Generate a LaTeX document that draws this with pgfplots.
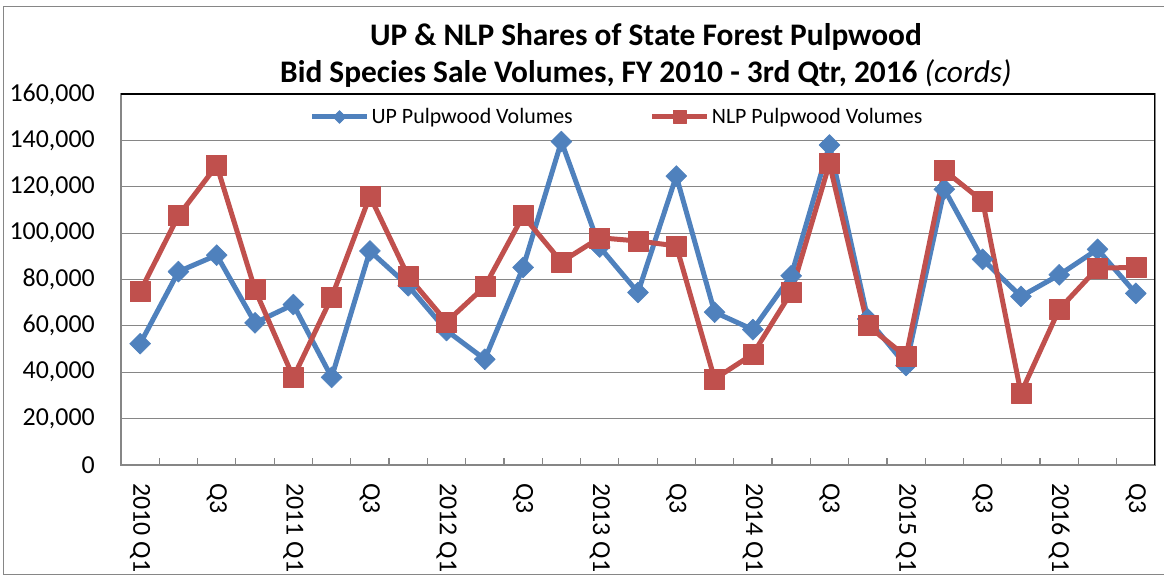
\documentclass[border=0pt]{standalone}
\usepackage{pgfplots}
\usepackage{pgfplotstable}
\pgfplotsset{compat=1.18}
\usepackage{fontspec}
\setmainfont{Carlito}
\definecolor{upblue}{HTML}{4F81BD}
\definecolor{nlpred}{HTML}{C0504D}
\definecolor{gridgray}{HTML}{868686}

\pgfplotstableread{
x up nlp
0 52300 74800
1 83400 107500
2 90500 129200
3 61300 75600
4 69200 37800
5 37800 72300
6 92300 116000
7 77300 81300
8 58000 61700
9 45600 77000
10 85200 107500
11 139500 87600
12 94000 98000
13 74400 96600
14 124600 94500
15 65900 37100
16 58400 47800
17 81600 74400
18 138000 130000
19 63000 60100
20 42900 46800
21 118900 127000
22 88700 113800
23 72700 31000
24 82000 67200
25 93000 84900
26 74000 85200
}\datatable

\begin{document}
\begin{tikzpicture}
\useasboundingbox (0bp,0bp) rectangle (1164bp,577bp);
\draw[gridgray, line width=1bp] (3bp,2bp) rectangle (1200bp,570bp);
\begin{axis}[
  at={(121bp,112bp)}, anchor=south west,
  scale only axis, width=1034bp, height=371bp,
  xmin=-0.5, xmax=26.5, ymin=0, ymax=160000,
  xtick={0,2,...,26},
  xticklabels={2010 Q1,Q3,2011 Q1,Q3,2012 Q1,Q3,2013 Q1,Q3,2014 Q1,Q3,2015 Q1,Q3,2016 Q1,Q3},
  minor xtick={-0.5,0.5,...,26.5},
  major tick length=0pt,
  minor tick length=7bp,
  minor tick style={gridgray, line width=1.2bp},
  tick pos=left,
  ytick={0,20000,...,160000},
  scaled y ticks=false,
  ymajorgrids,
  major grid style={gridgray, line width=1.2bp},
  axis line style={gridgray, line width=1.5bp},
  xticklabel style={rotate=-90, anchor=west, inner sep=0pt, font=\fontsize{26}{30}\selectfont},
  xticklabel shift=18bp,
  yticklabel style={anchor=east, inner sep=0pt, font=\fontsize{26}{30}\selectfont,
    /pgf/number format/fixed, /pgf/number format/1000 sep={,},
    /pgf/number format/assume math mode=true},
  yticklabel shift=26bp,
  title={\textbf{UP \& NLP Shares of State Forest Pulpwood}\\\textbf{Bid Species Sale Volumes, FY 2010 - 3rd Qtr, 2016} \textit{(cords)}},
  title style={align=center, font=\fontsize{31.5}{38}\selectfont,
    at={(axis description cs:0.5077,1)}, anchor=south, inner sep=0pt, yshift=0bp},
  legend columns=2,
  legend style={at={(axis description cs:0.4797,0.938)}, anchor=center,
    draw=none, fill=none, font=\fontsize{22}{26}\selectfont,
    /tikz/every even column/.append style={column sep=75bp},
    nodes={inner sep=2bp}},
  legend image code/.code={\draw[mark repeat=2,mark phase=2,#1,mark size=6.5bp] plot coordinates {(0bp,0bp) (27.5bp,0bp) (55bp,0bp)};},
]
\addplot[upblue, line width=5bp, line join=round, mark=diamond*, mark size=10.5bp,
  mark options={xscale=1.333, line width=0.5bp, solid}] table[x=x,y=up]{\datatable};
\addlegendentry{UP Pulpwood Volumes}
\addplot[nlpred, line width=5bp, line join=round, mark=square*, mark size=10bp,
  mark options={line width=0.5bp, solid}] table[x=x,y=nlp]{\datatable};
\addlegendentry{NLP Pulpwood Volumes}
\draw[black, line width=1.2bp] (rel axis cs:0,1) -- (rel axis cs:1,1) -- (rel axis cs:1,0);
\end{axis}
\end{tikzpicture}
\end{document}
